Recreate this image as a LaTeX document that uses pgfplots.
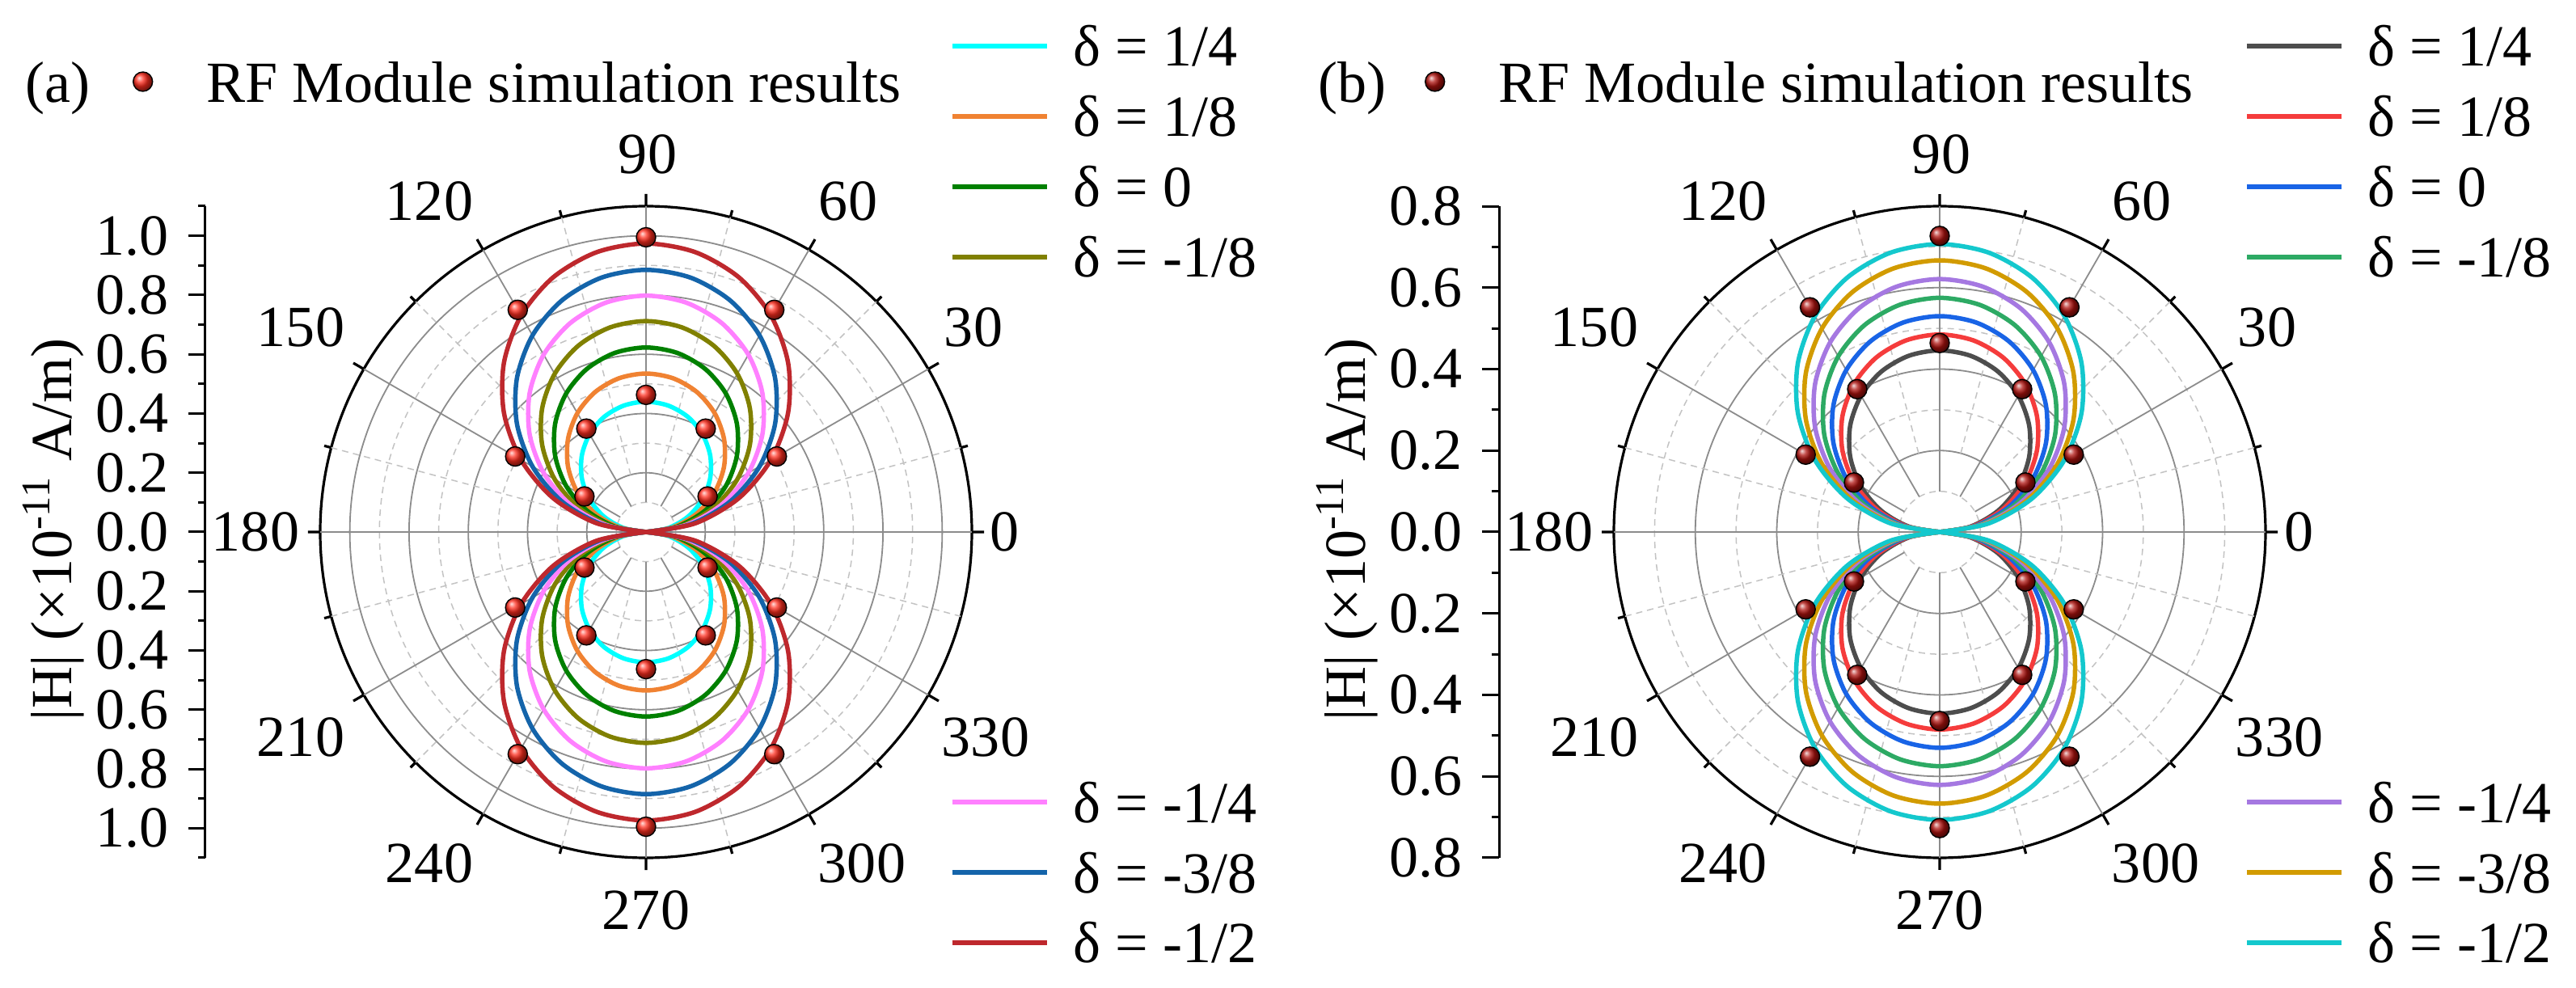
\documentclass[border=0pt]{standalone}
\usepackage{fontspec}
\setmainfont{Liberation Serif}
\newfontfamily\tnr{Liberation Serif}
\usepackage{pgfplots}
\usepackage{pgfplotstable}
\usepgfplotslibrary{polar}
\pgfplotsset{compat=1.18}

\definecolor{ca1}{RGB}{0,255,255}
\definecolor{ca2}{RGB}{240,130,50}
\definecolor{ca3}{RGB}{0,128,0}
\definecolor{ca4}{RGB}{128,128,0}
\definecolor{ca5}{RGB}{255,128,255}
\definecolor{ca6}{RGB}{20,100,170}
\definecolor{ca7}{RGB}{190,40,45}
\definecolor{cb1}{RGB}{77,77,77}
\definecolor{cb2}{RGB}{245,60,60}
\definecolor{cb3}{RGB}{25,100,230}
\definecolor{cb4}{RGB}{45,170,100}
\definecolor{cb5}{RGB}{165,120,225}
\definecolor{cb6}{RGB}{210,155,0}
\definecolor{cb7}{RGB}{20,200,205}
\definecolor{balla}{RGB}{255,45,30}
\definecolor{ballb}{RGB}{175,18,14}
\definecolor{gridmaj}{RGB}{140,140,140}
\definecolor{gridmin}{RGB}{195,195,195}

% |H| curves, panel (a)
\pgfplotstableread{
t a1 a2 a3 a4 a5 a6 a7
0 0 0 0 0 0 0 0
10 0.0764 0.0929 0.1082 0.1236 0.1386 0.1537 0.1691
20 0.1505 0.1830 0.2131 0.2435 0.2729 0.3027 0.3331
30 0.2200 0.2675 0.3115 0.3560 0.3990 0.4425 0.4870
40 0.2828 0.3439 0.4005 0.4577 0.5129 0.5689 0.6261
50 0.3371 0.4098 0.4772 0.5454 0.6113 0.6779 0.7461
60 0.3811 0.4633 0.5395 0.6166 0.6911 0.7664 0.8435
70 0.4135 0.5027 0.5854 0.6691 0.7499 0.8316 0.9153
80 0.4333 0.5269 0.6135 0.7012 0.7859 0.8716 0.9592
90 0.4400 0.5350 0.6230 0.7120 0.7980 0.8850 0.9740
100 0.4333 0.5269 0.6135 0.7012 0.7859 0.8716 0.9592
110 0.4135 0.5027 0.5854 0.6691 0.7499 0.8316 0.9153
120 0.3811 0.4633 0.5395 0.6166 0.6911 0.7664 0.8435
130 0.3371 0.4098 0.4772 0.5454 0.6113 0.6779 0.7461
140 0.2828 0.3439 0.4005 0.4577 0.5129 0.5689 0.6261
150 0.2200 0.2675 0.3115 0.3560 0.3990 0.4425 0.4870
160 0.1505 0.1830 0.2131 0.2435 0.2729 0.3027 0.3331
170 0.0764 0.0929 0.1082 0.1236 0.1386 0.1537 0.1691
180 0 0 0 0 0 0 0
190 0.0764 0.0929 0.1082 0.1236 0.1386 0.1537 0.1691
200 0.1505 0.1830 0.2131 0.2435 0.2729 0.3027 0.3331
210 0.2200 0.2675 0.3115 0.3560 0.3990 0.4425 0.4870
220 0.2828 0.3439 0.4005 0.4577 0.5129 0.5689 0.6261
230 0.3371 0.4098 0.4772 0.5454 0.6113 0.6779 0.7461
240 0.3811 0.4633 0.5395 0.6166 0.6911 0.7664 0.8435
250 0.4135 0.5027 0.5854 0.6691 0.7499 0.8316 0.9153
260 0.4333 0.5269 0.6135 0.7012 0.7859 0.8716 0.9592
270 0.4400 0.5350 0.6230 0.7120 0.7980 0.8850 0.9740
280 0.4333 0.5269 0.6135 0.7012 0.7859 0.8716 0.9592
290 0.4135 0.5027 0.5854 0.6691 0.7499 0.8316 0.9153
300 0.3811 0.4633 0.5395 0.6166 0.6911 0.7664 0.8435
310 0.3371 0.4098 0.4772 0.5454 0.6113 0.6779 0.7461
320 0.2828 0.3439 0.4005 0.4577 0.5129 0.5689 0.6261
330 0.2200 0.2675 0.3115 0.3560 0.3990 0.4425 0.4870
340 0.1505 0.1830 0.2131 0.2435 0.2729 0.3027 0.3331
350 0.0764 0.0929 0.1082 0.1236 0.1386 0.1537 0.1691
360 0 0 0 0 0 0 0
}\tabA

% |H| curves, panel (b)
\pgfplotstableread{
t b1 b2 b3 b4 b5 b6 b7
0 0 0 0 0 0 0 0
10 0.0774 0.0842 0.0920 0.0998 0.1078 0.1158 0.1228
20 0.1525 0.1659 0.1813 0.1967 0.2124 0.2281 0.2418
30 0.2230 0.2425 0.2650 0.2875 0.3105 0.3335 0.3535
40 0.2867 0.3118 0.3407 0.3696 0.3992 0.4287 0.4545
50 0.3417 0.3715 0.4060 0.4405 0.4757 0.5109 0.5416
60 0.3862 0.4200 0.4590 0.4980 0.5378 0.5776 0.6123
70 0.4191 0.4558 0.4980 0.5403 0.5835 0.6268 0.6644
80 0.4392 0.4776 0.5219 0.5663 0.6116 0.6569 0.6963
90 0.4460 0.4850 0.5300 0.5750 0.6210 0.6670 0.7070
100 0.4392 0.4776 0.5219 0.5663 0.6116 0.6569 0.6963
110 0.4191 0.4558 0.4980 0.5403 0.5835 0.6268 0.6644
120 0.3862 0.4200 0.4590 0.4980 0.5378 0.5776 0.6123
130 0.3417 0.3715 0.4060 0.4405 0.4757 0.5109 0.5416
140 0.2867 0.3118 0.3407 0.3696 0.3992 0.4287 0.4545
150 0.2230 0.2425 0.2650 0.2875 0.3105 0.3335 0.3535
160 0.1525 0.1659 0.1813 0.1967 0.2124 0.2281 0.2418
170 0.0774 0.0842 0.0920 0.0998 0.1078 0.1158 0.1228
180 0 0 0 0 0 0 0
190 0.0774 0.0842 0.0920 0.0998 0.1078 0.1158 0.1228
200 0.1525 0.1659 0.1813 0.1967 0.2124 0.2281 0.2418
210 0.2230 0.2425 0.2650 0.2875 0.3105 0.3335 0.3535
220 0.2867 0.3118 0.3407 0.3696 0.3992 0.4287 0.4545
230 0.3417 0.3715 0.4060 0.4405 0.4757 0.5109 0.5416
240 0.3862 0.4200 0.4590 0.4980 0.5378 0.5776 0.6123
250 0.4191 0.4558 0.4980 0.5403 0.5835 0.6268 0.6644
260 0.4392 0.4776 0.5219 0.5663 0.6116 0.6569 0.6963
270 0.4460 0.4850 0.5300 0.5750 0.6210 0.6670 0.7070
280 0.4392 0.4776 0.5219 0.5663 0.6116 0.6569 0.6963
290 0.4191 0.4558 0.4980 0.5403 0.5835 0.6268 0.6644
300 0.3862 0.4200 0.4590 0.4980 0.5378 0.5776 0.6123
310 0.3417 0.3715 0.4060 0.4405 0.4757 0.5109 0.5416
320 0.2867 0.3118 0.3407 0.3696 0.3992 0.4287 0.4545
330 0.2230 0.2425 0.2650 0.2875 0.3105 0.3335 0.3535
340 0.1525 0.1659 0.1813 0.1967 0.2124 0.2281 0.2418
350 0.0774 0.0842 0.0920 0.0998 0.1078 0.1158 0.1228
360 0 0 0 0 0 0 0
}\tabB

% RF Module simulation results
\pgfplotstableread{
t r
30 0.510
60 0.866
90 0.995
120 0.866
150 0.510
210 0.510
240 0.866
270 0.995
300 0.866
330 0.510
30 0.240
60 0.403
90 0.463
120 0.403
150 0.240
210 0.240
240 0.403
270 0.463
300 0.403
330 0.240
}\mkA

\pgfplotstableread{
t r
30 0.380
60 0.637
90 0.727
120 0.637
150 0.380
210 0.380
240 0.637
270 0.727
300 0.637
330 0.380
30 0.243
60 0.405
90 0.464
120 0.405
150 0.243
210 0.243
240 0.405
270 0.464
300 0.405
330 0.243
}\mkB

\newcommand{\anglabels}{%
  \node[xshift=44.4mm] at (axis cs:0,0) {0};
  \node[xshift=40.5mm, yshift=25.3mm] at (axis cs:0,0) {30};
  \node[xshift=25.0mm, yshift=40.9mm] at (axis cs:0,0) {60};
  \node[xshift=0.2mm, yshift=46.7mm] at (axis cs:0,0) {90};
  \node[xshift=-26.8mm, yshift=40.9mm] at (axis cs:0,0) {120};
  \node[xshift=-42.7mm, yshift=25.3mm] at (axis cs:0,0) {150};
  \node[xshift=-48.3mm] at (axis cs:0,0) {180};
  \node[xshift=-42.7mm, yshift=-25.4mm] at (axis cs:0,0) {210};
  \node[xshift=-26.8mm, yshift=-41.0mm] at (axis cs:0,0) {240};
  \node[xshift=0mm, yshift=-46.8mm] at (axis cs:0,0) {270};
  \node[xshift=26.7mm, yshift=-41.0mm] at (axis cs:0,0) {300};
  \node[xshift=42.0mm, yshift=-25.4mm] at (axis cs:0,0) {330};
}
% radial grid lines, which stop short of the centre as in the reference
\newcommand{\radgrid}[1]{%
  \draw[gridmaj, line width=0.18mm] (axis cs:0,#1) -- (axis cs:180,#1);
  \pgfplotsinvokeforeach{30,60,90,120,150,210,240,270,300,330}{%
    \draw[gridmaj, line width=0.18mm] (axis cs:##1,0.1) -- (axis cs:##1,#1);}
  \pgfplotsinvokeforeach{15,45,75,105,135,165,195,225,255,285,315,345}{%
    \draw[gridmin, line width=0.15mm, dash pattern=on 0.8mm off 0.6mm] (axis cs:##1,0.2) -- (axis cs:##1,#1);}
}

\pgfplotsset{
  /pgf/number format/assume math mode=true,
  every axis/.append style={font=\tnr\fontsize{20.5pt}{24pt}\selectfont},
  mypolar/.style={
    scale only axis, width=80.6mm, height=80.6mm, anchor=center,
    clip=false,
    xmin=0, xmax=360, ymin=0,
    xtick={0,30,...,330}, minor x tick num=1,
    xticklabels={},
    yticklabels={},
    grid=both, xmajorgrids=false, xminorgrids=false,
    major grid style={draw=gridmaj, line width=0.18mm, solid},
    minor grid style={draw=gridmin, line width=0.15mm, dash pattern=on 0.8mm off 0.6mm},
    separate axis lines,
    x axis line style={line width=0.32mm, black},
    y axis line style={draw=none},
    ytick style={draw=none},
    xtick style={line width=0.32mm, black},
    major tick length=1.5mm, minor tick length=0.9mm,
    tick align=inside,
  },
  myleft/.style={
    anchor=west, scale only axis, width=5mm, height=80.6mm,
    xmin=0, xmax=1,
    axis x line=none, axis y line=left,
    axis line style={-, line width=0.3mm, black},
    tick align=outside, major tick length=2.1mm, minor tick length=0.9mm,
    tick style={line width=0.3mm, black},
  },
  myleg/.style={
    hide axis, scale only axis, width=1mm, height=1mm,
    xmin=0, xmax=1, ymin=0, ymax=1, anchor=north west,
    legend cell align=left,
    legend style={at={(0,1)}, anchor=north west, draw=none, fill=none,
      inner sep=0pt, outer sep=0pt, row sep=3.3mm,
      cells={anchor=base west},
      nodes={inner sep=0pt, text height=5.2mm, text depth=0.2mm}},
    legend image code/.code={\draw[##1] (0mm,2.5mm) -- (11.7mm,2.5mm); \path[draw=none] (15mm,2.5mm);},
  },
  mymk/.style={
    hide axis, scale only axis, width=1mm, height=1mm,
    xmin=0, xmax=1, ymin=0, ymax=1, anchor=north west,
    legend cell align=left,
    legend style={at={(0,1)}, anchor=north west, draw=none, fill=none,
      inner sep=0pt, outer sep=0pt,
      cells={anchor=base west},
      nodes={inner sep=0pt, text height=5.2mm, text depth=0.2mm}},
    legend image code/.code={\path[draw=none] (-1.2mm,2.6mm) -- (7.9mm,2.6mm); \draw[##1] plot coordinates {(0mm,2.6mm)};},
  },
  curve/.style={smooth, line width=0.55mm, no markers},
}

\begin{document}
\tnr\fontsize{20.5pt}{24pt}\selectfont
\begin{tikzpicture}[every node/.style={font=\tnr\fontsize{20.5pt}{24pt}\selectfont}]
\path[use as bounding box] (0,0) rectangle (318.6mm,-122.2mm);

% ================= panel (a) =================
\node[anchor=base west, inner sep=0pt] at (3.1mm,-12.7mm) {(a)};
\node[rotate=90, inner sep=0pt] at (6.6mm,-65.5mm) {|H| (×10\textsuperscript{-11} A/m)};

\begin{axis}[myleft, at={(25.4mm,-65.8mm)}, ymin=-1.1, ymax=1.1,
  ytick={-1,-0.8,-0.6,-0.4,-0.2,0,0.2,0.4,0.6,0.8,1},
  yticklabels={1.0,0.8,0.6,0.4,0.2,0.0,0.2,0.4,0.6,0.8,1.0},
  minor ytick={-1.1,-0.9,-0.7,-0.5,-0.3,-0.1,0.1,0.3,0.5,0.7,0.9,1.1}]
\end{axis}

\begin{polaraxis}[mypolar, at={(79.9mm,-65.8mm)}, ymax=1.1,
  ytick={0.2,0.4,0.6,0.8,1.0}, minor ytick={0.1,0.3,0.5,0.7,0.9}]
\radgrid{1.1}
\pgfplotsinvokeforeach{1,...,7}{
  \addplot[curve, ca#1, restrict x to domain=0:180] table[x=t,y=a#1]{\tabA};
  \addplot[curve, ca#1, restrict x to domain=180:360] table[x=t,y=a#1]{\tabA};
}
\addplot[only marks, mark=ball, mark size=1.2mm, mark options={ball color=balla}] table[x=t,y=r]{\mkA};
\anglabels
\end{polaraxis}

\begin{axis}[mymk, at={(16.4mm,-7.5mm)}]
\addlegendimage{only marks, mark=ball, mark size=1.2mm, mark options={ball color=balla}}
\addlegendentry{RF Module simulation results}
\end{axis}

\begin{axis}[myleg, at={(117.5mm,-3.0mm)}]
\addlegendimage{ca1, line width=0.55mm}\addlegendentry{δ = 1/4}
\addlegendimage{ca2, line width=0.55mm}\addlegendentry{δ = 1/8}
\addlegendimage{ca3, line width=0.55mm}\addlegendentry{δ = 0}
\addlegendimage{ca4, line width=0.55mm}\addlegendentry{δ = -1/8}
\end{axis}

\begin{axis}[myleg, at={(117.5mm,-96.5mm)}]
\addlegendimage{ca5, line width=0.55mm}\addlegendentry{δ = -1/4}
\addlegendimage{ca6, line width=0.55mm}\addlegendentry{δ = -3/8}
\addlegendimage{ca7, line width=0.55mm}\addlegendentry{δ = -1/2}
\end{axis}

% ================= panel (b) =================
\node[anchor=base west, inner sep=0pt] at (163.0mm,-12.7mm) {(b)};
\node[rotate=90, inner sep=0pt] at (166.6mm,-65.5mm) {|H| (×10\textsuperscript{-11} A/m)};

\begin{axis}[myleft, at={(185.4mm,-65.8mm)}, ymin=-0.8, ymax=0.8,
  ytick={-0.8,-0.6,-0.4,-0.2,0,0.2,0.4,0.6,0.8},
  yticklabels={0.8,0.6,0.4,0.2,0.0,0.2,0.4,0.6,0.8},
  minor ytick={-0.7,-0.5,-0.3,-0.1,0.1,0.3,0.5,0.7}]
\end{axis}

\begin{polaraxis}[mypolar, at={(239.9mm,-65.8mm)}, ymax=0.8,
  ytick={0.2,0.4,0.6}, minor ytick={0.1,0.3,0.5,0.7}]
\radgrid{0.8}
\pgfplotsinvokeforeach{1,...,7}{
  \addplot[curve, cb#1, restrict x to domain=0:180] table[x=t,y=b#1]{\tabB};
  \addplot[curve, cb#1, restrict x to domain=180:360] table[x=t,y=b#1]{\tabB};
}
\addplot[only marks, mark=ball, mark size=1.2mm, mark options={ball color=ballb}] table[x=t,y=r]{\mkB};
\anglabels
\end{polaraxis}

\begin{axis}[mymk, at={(176.2mm,-7.5mm)}]
\addlegendimage{only marks, mark=ball, mark size=1.2mm, mark options={ball color=ballb}}
\addlegendentry{RF Module simulation results}
\end{axis}

\begin{axis}[myleg, at={(277.6mm,-3.0mm)}]
\addlegendimage{cb1, line width=0.55mm}\addlegendentry{δ = 1/4}
\addlegendimage{cb2, line width=0.55mm}\addlegendentry{δ = 1/8}
\addlegendimage{cb3, line width=0.55mm}\addlegendentry{δ = 0}
\addlegendimage{cb4, line width=0.55mm}\addlegendentry{δ = -1/8}
\end{axis}

\begin{axis}[myleg, at={(277.6mm,-96.5mm)}]
\addlegendimage{cb5, line width=0.55mm}\addlegendentry{δ = -1/4}
\addlegendimage{cb6, line width=0.55mm}\addlegendentry{δ = -3/8}
\addlegendimage{cb7, line width=0.55mm}\addlegendentry{δ = -1/2}
\end{axis}
\end{tikzpicture}
\end{document}
